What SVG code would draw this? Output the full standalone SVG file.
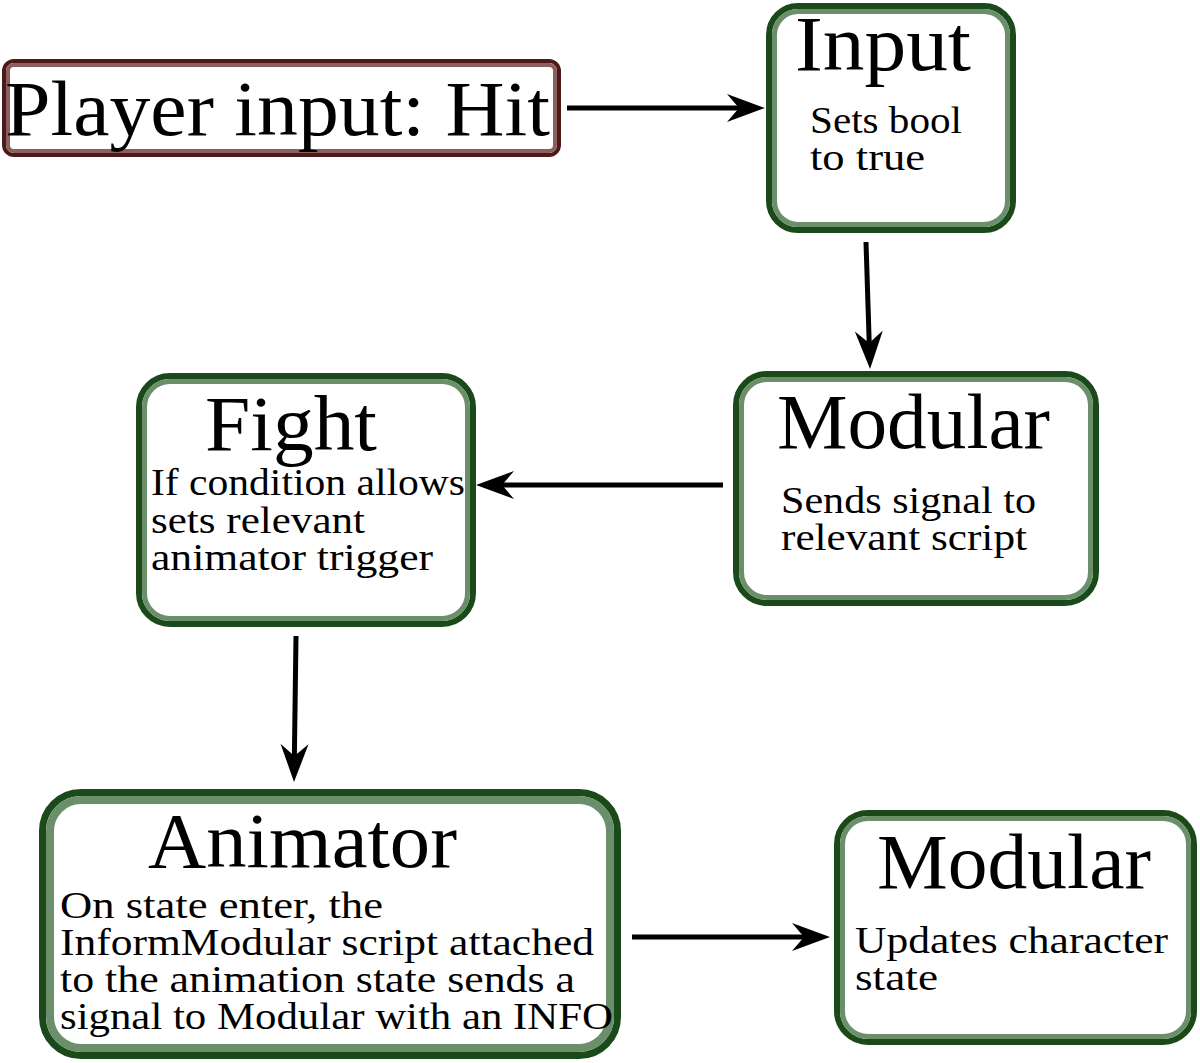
<svg xmlns="http://www.w3.org/2000/svg" width="1200" height="1063" viewBox="0 0 1200 1063">
<style>
.bg{fill:#ffffff}
.dk{fill:#ffffff;stroke:#1a4a1a}
.lt{fill:none;stroke:#6a8f6a}
.dkr{fill:#ffffff;stroke:#4d1a1a}
.ltr{fill:none;stroke:#8c5f5f}
.t{font-family:"Liberation Serif","Times New Roman",serif;fill:#000000}
.title{font-size:78px}
.body{font-size:38px}
.conn{stroke:#000000;stroke-width:5;fill:none;marker-end:url(#arr)}
</style>
<defs>
<marker id="arr" markerUnits="userSpaceOnUse" markerWidth="40" markerHeight="30" viewBox="0 -15 40 30" refX="18" refY="0" orient="auto">
<path d="M38,0 L0,-14 L12,0 L0,14 Z" fill="#000000"/>
</marker>
</defs>
<rect class="bg" x="0" y="0" width="1200" height="1063"/>
<g id="connectors">
<line class="conn" x1="567" y1="108" x2="745" y2="108"/>
<line class="conn" x1="866" y1="242" x2="869.4" y2="349"/>
<line class="conn" x1="723" y1="485" x2="496" y2="485"/>
<line class="conn" x1="296" y1="636" x2="294.3" y2="762"/>
<line class="conn" x1="632" y1="937" x2="810" y2="937"/>
</g>
<g id="player-input">
<rect class="dkr" x="4" y="61" width="555" height="94" rx="10" stroke-width="4"/>
<rect class="ltr" x="8" y="65" width="547" height="86" rx="6" stroke-width="4"/>
<text class="t title" x="5" y="135" textLength="545" lengthAdjust="spacingAndGlyphs">Player input: Hit</text>
</g>
<g id="input">
<rect class="dk" x="769" y="6" width="244" height="224" rx="29" stroke-width="6"/>
<rect class="lt" x="774.5" y="11.5" width="233" height="213" rx="23.5" stroke-width="5"/>
<text class="t title" x="795" y="70" textLength="176" lengthAdjust="spacingAndGlyphs">Input</text>
<text class="t body" x="810" y="133" textLength="152" lengthAdjust="spacingAndGlyphs">Sets bool</text>
<text class="t body" x="810" y="170" textLength="115" lengthAdjust="spacingAndGlyphs">to true</text>
</g>
<g id="modular-1">
<rect class="dk" x="736" y="374" width="360" height="229" rx="31" stroke-width="6"/>
<rect class="lt" x="741.5" y="379.5" width="349" height="218" rx="25.5" stroke-width="5"/>
<text class="t title" x="777" y="448" textLength="273" lengthAdjust="spacingAndGlyphs">Modular</text>
<text class="t body" x="781" y="513" textLength="255" lengthAdjust="spacingAndGlyphs">Sends signal to</text>
<text class="t body" x="781" y="550" textLength="246" lengthAdjust="spacingAndGlyphs">relevant script</text>
</g>
<g id="fight">
<rect class="dk" x="139" y="376" width="334" height="248" rx="31" stroke-width="6"/>
<rect class="lt" x="144.5" y="381.5" width="323" height="237" rx="25.5" stroke-width="5"/>
<text class="t title" x="205" y="450" textLength="172" lengthAdjust="spacingAndGlyphs">Fight</text>
<text class="t body" x="151" y="495" textLength="314" lengthAdjust="spacingAndGlyphs">If condition allows</text>
<text class="t body" x="151" y="533" textLength="214" lengthAdjust="spacingAndGlyphs">sets relevant</text>
<text class="t body" x="151" y="570" textLength="282" lengthAdjust="spacingAndGlyphs">animator trigger</text>
</g>
<g id="animator">
<rect class="dk" x="42.5" y="792.5" width="575" height="263" rx="38.5" stroke-width="7"/>
<rect class="lt" x="50" y="800" width="560" height="248" rx="31" stroke-width="8"/>
<text class="t title" x="148" y="867" textLength="309" lengthAdjust="spacingAndGlyphs">Animator</text>
<text class="t body" x="60" y="918" textLength="323" lengthAdjust="spacingAndGlyphs">On state enter, the</text>
<text class="t body" x="60" y="955" textLength="534" lengthAdjust="spacingAndGlyphs">InformModular script attached</text>
<text class="t body" x="60" y="992" textLength="515" lengthAdjust="spacingAndGlyphs">to the animation state sends a</text>
<text class="t body" x="60" y="1029" textLength="553" lengthAdjust="spacingAndGlyphs">signal to Modular with an INFO</text>
</g>
<g id="modular-2">
<rect class="dk" x="837" y="813" width="357" height="229" rx="31" stroke-width="6"/>
<rect class="lt" x="842.5" y="818.5" width="346" height="218" rx="25.5" stroke-width="5"/>
<text class="t title" x="877" y="888" textLength="274" lengthAdjust="spacingAndGlyphs">Modular</text>
<text class="t body" x="855" y="953" textLength="313" lengthAdjust="spacingAndGlyphs">Updates character</text>
<text class="t body" x="855" y="990" textLength="83" lengthAdjust="spacingAndGlyphs">state</text>
</g>
</svg>
